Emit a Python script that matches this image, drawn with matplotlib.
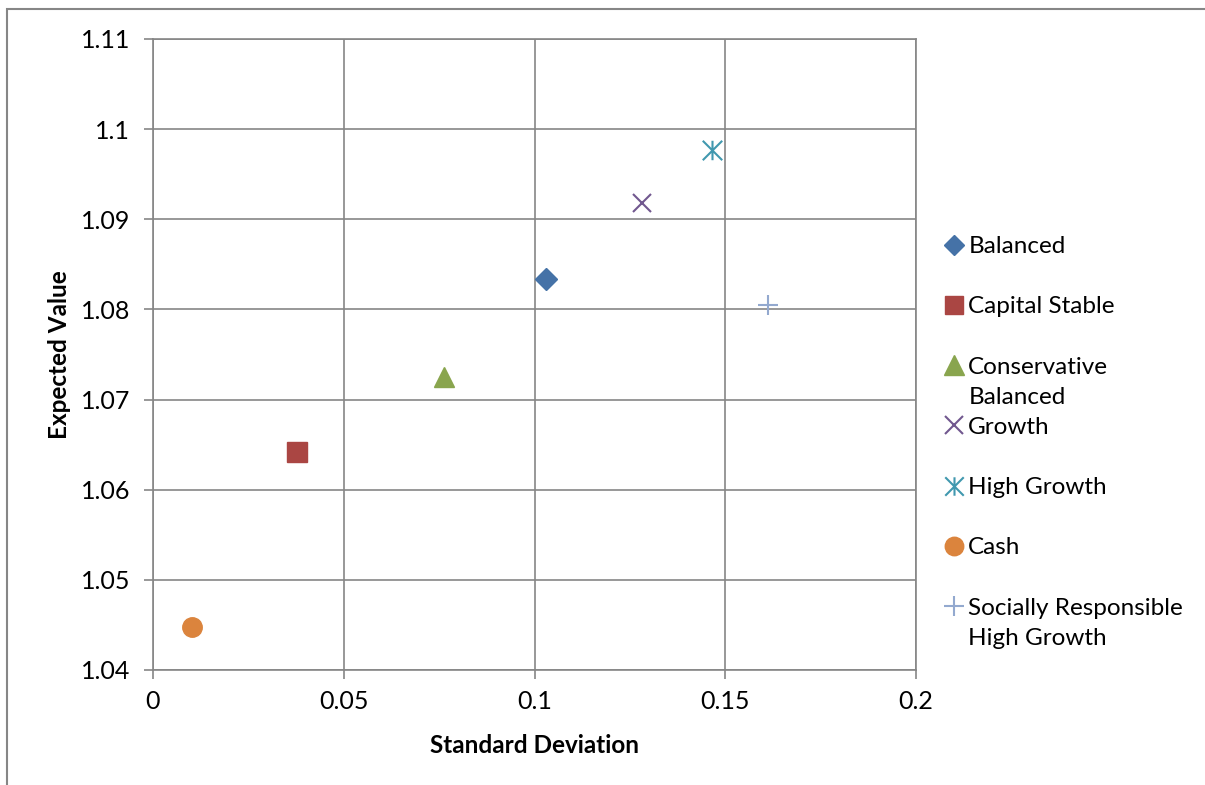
import matplotlib.pyplot as plt
from matplotlib.lines import Line2D
from matplotlib.patches import Rectangle
from matplotlib.path import Path

plt.rcParams['font.family'] = ['Lato', 'DejaVu Sans']

# Excel style asterisk: an x with a vertical bar through it
star = Path([(-1, -1), (1, 1), (-1, 1), (1, -1), (0, -1), (0, 1)],
            [Path.MOVETO, Path.LINETO] * 3)

# portfolio data
names = ['Balanced', 'Capital Stable', 'Conservative\nBalanced', 'Growth',
         'High Growth', 'Cash', 'Socially Responsible\nHigh Growth']
std_dev = [0.1029, 0.0377, 0.0764, 0.1283, 0.1466, 0.0102, 0.1613]
exp_val = [1.0834, 1.0642, 1.0725, 1.0918, 1.0977, 1.0448, 1.0805]

markers = ['D', 's', '^', 'x', star, 'o', '+']
colors = ['#4572A7', '#AA4643', '#89A54E', '#71588F', '#4198AF', '#DB843D', '#93A9CF']
sizes = [11, 14, 15, 13, 14, 14, 15]

x_ticks = [0, 0.05, 0.1, 0.15, 0.2]
x_labels = ['0', '0.05', '0.1', '0.15', '0.2']
y_ticks = [1.04, 1.05, 1.06, 1.07, 1.08, 1.09, 1.1, 1.11]
y_labels = ['1.04', '1.05', '1.06', '1.07', '1.08', '1.09', '1.1', '1.11']

grey = '#868686'

fig = plt.figure(figsize=(12.05, 7.85), dpi=100)
ax = fig.add_axes([153 / 1205, 1 - 670 / 785, (916 - 153) / 1205, (670 - 39) / 785])

handles = []
for n, x, y, m, c, s in zip(names, std_dev, exp_val, markers, colors, sizes):
    if m in ('x', '+') or m is star:
        h, = ax.plot([x], [y], linestyle='none', marker=m, color=c, ms=s, mew=1.5)
    else:
        h, = ax.plot([x], [y], linestyle='none', marker=m, color=c, ms=s, mec=c)
    handles.append(h)

ax.set_xlim(0, 0.2)
ax.set_ylim(1.04, 1.11)
ax.set_xticks(x_ticks, x_labels)
ax.set_yticks(y_ticks, y_labels)
ax.grid(True, color=grey, linewidth=1.2)
ax.set_axisbelow(True)
for sp in ax.spines.values():
    sp.set_color(grey)
    sp.set_linewidth(1.2)
ax.tick_params(direction='out', length=6.5, width=1.2, color=grey, labelsize=18)
ax.tick_params(axis='y', pad=10)
ax.tick_params(axis='x', pad=8)

ax.set_xlabel('Standard Deviation', fontsize=17.5, fontweight='bold', labelpad=15)
ax.set_ylabel('Expected Value', fontsize=17.5, fontweight='bold', labelpad=7)

# Excel keeps a fixed step per entry, wrapped lines run into the gap,
# so build the legend as rows of single lines with blank spacer rows
blank = Line2D([], [], linestyle='none')
leg_h, leg_l = [], []
for h, n in zip(handles, names):
    lines = n.split('\n')
    leg_h.append(h)
    leg_l.append(lines[0])
    leg_h.append(blank)
    leg_l.append(lines[1] if len(lines) > 1 else ' ')

leg = ax.legend(leg_h, leg_l, loc='upper left', frameon=False,
                fontsize=17.5, handlelength=0.8, handletextpad=0.2,
                labelspacing=0.375, borderaxespad=0, borderpad=0,
                markerscale=0.95)
leg.set_bbox_to_anchor((944 / 1205, 1 - 236 / 785), transform=fig.transFigure)

fig.patches.append(Rectangle((7 / 1205, -0.5), 2, 0.5 + 1 - 9 / 785,
                             transform=fig.transFigure, fill=False,
                             edgecolor=grey, linewidth=1.5))

fig.savefig('out.png', dpi=100)
